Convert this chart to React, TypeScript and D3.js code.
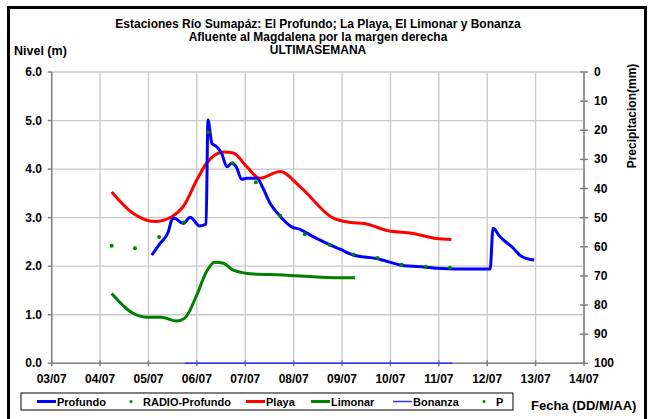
import * as d3 from 'd3';

// day offsets are counted from 03/07
const dateLabels = ['03/07', '04/07', '05/07', '06/07', '07/07', '08/07', '09/07', '10/07', '11/07', '12/07', '13/07', '14/07'];
const levelTicks = [0, 1, 2, 3, 4, 5, 6];
const rainTicks = [0, 10, 20, 30, 40, 50, 60, 70, 80, 90, 100];

const profundoDays = [2.07, 2.24, 2.41, 2.48, 2.53, 2.72, 2.86, 3.06, 3.19, 3.23, 3.31, 3.41, 3.51, 3.62, 3.72, 3.81, 3.93, 4.03, 4.24, 4.37, 4.51, 4.72, 4.96, 5.13, 5.4, 5.71, 5.96, 6.23, 6.71, 7.23, 7.73, 7.95, 8.71, 9.06, 9.12, 9.26, 9.54, 9.67, 9.8, 9.97];
const profundoVals = [2.23, 2.47, 2.71, 2.95, 2.99, 2.88, 3.01, 2.83, 2.87, 5.01, 4.53, 4.46, 4.33, 4.05, 4.12, 4.05, 3.79, 3.81, 3.81, 3.6, 3.3, 3.03, 2.81, 2.76, 2.61, 2.46, 2.35, 2.23, 2.16, 2.02, 1.98, 1.96, 1.94, 1.94, 2.78, 2.61, 2.37, 2.23, 2.16, 2.13];

const radioDays = [1.24, 1.72, 2.22, 2.73, 3.24, 3.74, 4.22, 4.72, 5.23, 5.74, 6.23, 6.73, 7.23, 7.73, 8.23];
const radioVals = [2.42, 2.37, 2.6, 2.9, 4.76, 4.12, 3.73, 3.04, 2.66, 2.44, 2.24, 2.17, 2.03, 1.99, 1.97];

const playaDays = [1.24, 1.68, 2.13, 2.48, 2.72, 3.0, 3.2, 3.55, 3.75, 4.03, 4.3, 4.72, 5.13, 5.82, 6.18, 6.46, 6.95, 7.45, 7.95, 8.26];
const playaVals = [3.53, 3.09, 2.92, 3.02, 3.23, 3.78, 4.12, 4.35, 4.33, 4.05, 3.81, 3.95, 3.64, 2.99, 2.9, 2.88, 2.73, 2.68, 2.57, 2.55];

const limonarDays = [1.24, 1.68, 1.96, 2.27, 2.58, 2.75, 3.0, 3.2, 3.37, 3.55, 3.75, 4.17, 4.79, 5.47, 6.16, 6.27];
const limonarVals = [1.44, 1.03, 0.95, 0.95, 0.87, 0.93, 1.41, 1.89, 2.08, 2.06, 1.92, 1.84, 1.82, 1.78, 1.76, 1.76];

const bonanzaDays = [2.75, 8.28];
const bonanzaVals = [0, 0];

const W = 648;
const H = 419;
const left = 51.7;
const right = 584;
const top = 72;
const bottom = 363.3;
const font = 'Liberation Sans, Arial, sans-serif';

export default function App() {
  const x = d3.scaleLinear().domain([0, 11]).range([left, right]);
  const y = d3.scaleLinear().domain([0, 6]).range([bottom, top]);
  const yR = d3.scaleLinear().domain([0, 100]).range([top, bottom]);

  const line = d3
    .line<[number, number]>()
    .x((d) => x(d[0]))
    .y((d) => y(d[1]))
    .curve(d3.curveMonotoneX);
  const zip = (a: number[], b: number[]) => a.map((v, i) => [v, b[i]] as [number, number]);

  const axisColor = '#808080';
  const gridColor = '#c8c8c8';

  const legend = [
    { name: 'Profundo', kind: 'line', color: '#0000ff', w: 3, x0: 37, tx: 57 },
    { name: 'RADIO-Profundo', kind: 'dot', color: '#008000', w: 0, x0: 122, tx: 143 },
    { name: 'Playa', kind: 'line', color: '#ff0000', w: 3, x0: 246, tx: 266 },
    { name: 'Limonar', kind: 'line', color: '#008000', w: 3, x0: 311, tx: 331 },
    { name: 'Bonanza', kind: 'line', color: '#3333ff', w: 1.5, x0: 393, tx: 413 },
    { name: 'P', kind: 'dot', color: '#008000', w: 0, x0: 475, tx: 496 },
  ];

  return (
    <div style={{ position: 'fixed', left: 0, top: 0 }}>
      <svg width={W} height={H} style={{ display: 'block', background: '#fff' }} fontFamily={font} fontWeight="bold">
        <rect x={8.5} y={7.5} width={637} height={420} fill="none" stroke="#000" strokeWidth={3} />

        <g textAnchor="middle" fontSize={12} fill="#000">
          <text x={318} y={28}>Estaciones Río Sumapáz: El Profundo; La Playa, El Limonar y Bonanza</text>
          <text x={318} y={41}>Afluente al Magdalena por la margen derecha</text>
          <text x={318} y={54}>ULTIMASEMANA</text>
        </g>
        <text x={14} y={55} fontSize={12.5}>Nivel (m)</text>
        <text transform={`translate(636,116) rotate(-90)`} textAnchor="middle" fontSize={12}>Precipitacion(mm)</text>

        {/* grid */}
        {dateLabels.map((_, i) => (
          <line key={'gx' + i} x1={x(i)} x2={x(i)} y1={top} y2={bottom} stroke={gridColor} strokeWidth={1.3} />
        ))}
        {levelTicks.map((t) => (
          <line key={'gy' + t} x1={left} x2={right} y1={y(t)} y2={y(t)} stroke={gridColor} strokeWidth={1.3} />
        ))}

        {/* axes */}
        <line x1={left} x2={left} y1={top} y2={bottom} stroke={axisColor} strokeWidth={1.5} />
        <line x1={right} x2={right} y1={top} y2={bottom} stroke={axisColor} strokeWidth={1.5} />
        <line x1={left} x2={right} y1={bottom} y2={bottom} stroke={axisColor} strokeWidth={1.5} />

        {levelTicks.map((t) => (
          <g key={'ly' + t}>
            <line x1={left - 4} x2={left} y1={y(t)} y2={y(t)} stroke={axisColor} strokeWidth={1.5} />
            <text x={42} y={y(t) + 4} textAnchor="end" fontSize={12}>{t.toFixed(1)}</text>
          </g>
        ))}
        {rainTicks.map((t) => (
          <g key={'ry' + t}>
            <line x1={right - 4} x2={right + 4} y1={yR(t)} y2={yR(t)} stroke={axisColor} strokeWidth={1.5} />
            <text x={594} y={yR(t) + 4} fontSize={12}>{t}</text>
          </g>
        ))}
        {dateLabels.map((l, i) => (
          <g key={'lx' + i}>
            <line x1={x(i)} x2={x(i)} y1={bottom - 3} y2={bottom + 3} stroke={axisColor} strokeWidth={1.5} />
            <text x={x(i)} y={383} textAnchor="middle" fontSize={12}>{l}</text>
          </g>
        ))}

        {/* series */}
        <path d={line(zip(bonanzaDays, bonanzaVals)) ?? ''} fill="none" stroke="#3333ff" strokeWidth={1.5} />
        <path d={line(zip(limonarDays, limonarVals)) ?? ''} fill="none" stroke="#008000" strokeWidth={3} />
        <path d={line(zip(playaDays, playaVals)) ?? ''} fill="none" stroke="#ff0000" strokeWidth={3} />
        <path d={line(zip(profundoDays, profundoVals)) ?? ''} fill="none" stroke="#0000ff" strokeWidth={3} strokeLinejoin="round" />
        {zip(radioDays, radioVals).map((d, i) => (
          <circle key={'r' + i} cx={x(d[0])} cy={y(d[1])} r={2} fill="#008000" />
        ))}

        {/* legend */}
        <rect x={21} y={393} width={492} height={17} fill="#fff" stroke="#000" strokeWidth={1} />
        {legend.map((it) => (
          <g key={it.name}>
            {it.kind === 'line' ? (
              <line x1={it.x0} x2={it.x0 + 19} y1={401.5} y2={401.5} stroke={it.color} strokeWidth={it.w} />
            ) : (
              <circle cx={it.x0 + 9} cy={401.5} r={1.5} fill={it.color} />
            )}
            <text x={it.tx} y={406} fontSize={11}>{it.name}</text>
          </g>
        ))}
        <text x={531} y={410} fontSize={13}>Fecha (DD/M/AA)</text>
      </svg>
    </div>
  );
}
